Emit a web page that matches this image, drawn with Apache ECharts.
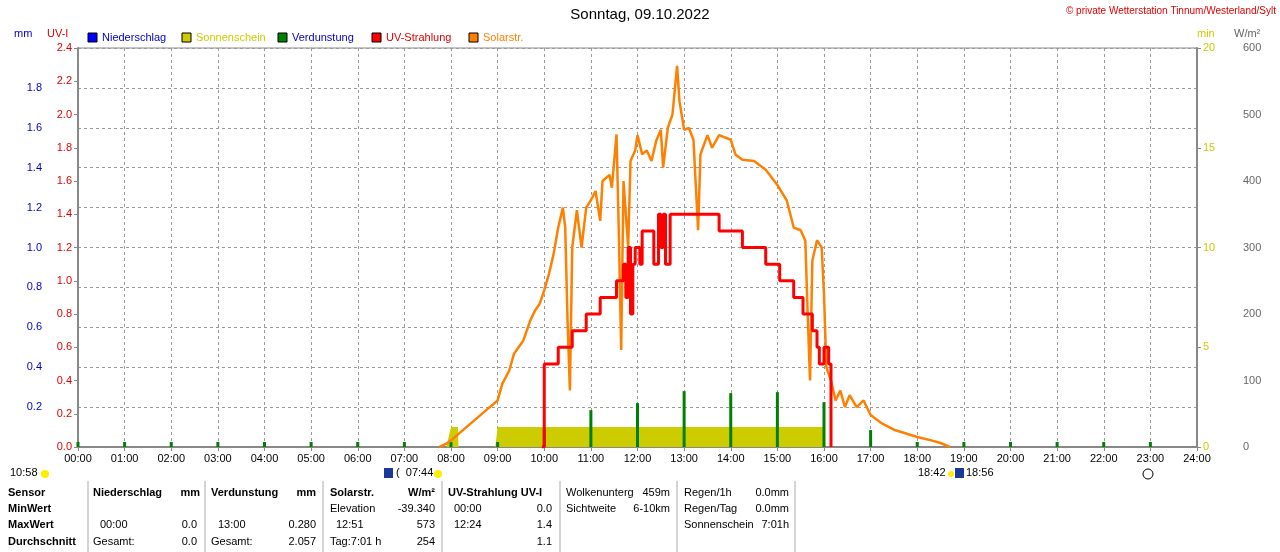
<!DOCTYPE html>
<html><head><meta charset="utf-8">
<script src="https://cdn.jsdelivr.net/npm/echarts@6/dist/echarts.min.js"></script>
<style>html,body{margin:0;padding:0;background:#fff}#c{width:1280px;height:552px}</style>
</head><body><div id="c"></div>
<script>
// Solar radiation W/m² : [hour, value]
const solarData = [[7.75,0],[7.9,5],[8.0,10],[8.25,25],[8.5,40],[8.75,55],[9.0,70],[9.1,95],[9.25,115],[9.35,140],[9.45,150],[9.55,160],[9.7,190],[9.8,205],[9.9,215],[10.0,236],[10.1,260],[10.2,290],[10.3,330],[10.4,360],[10.45,330],[10.5,190],[10.55,85],[10.6,300],[10.7,356],[10.8,300],[10.9,360],[11.0,371],[11.1,385],[11.2,340],[11.25,400],[11.4,409],[11.45,390],[11.55,470],[11.6,320],[11.65,146],[11.7,400],[11.8,300],[11.85,430],[11.95,446],[12.0,469],[12.1,440],[12.2,446],[12.3,430],[12.4,460],[12.5,477],[12.55,420],[12.65,480],[12.75,500],[12.8,537],[12.85,573],[12.9,520],[13.0,477],[13.1,480],[13.2,462],[13.3,326],[13.35,440],[13.5,469],[13.6,450],[13.75,469],[14.0,462],[14.1,440],[14.25,432],[14.5,430],[14.75,417],[15.0,394],[15.2,371],[15.35,330],[15.5,326],[15.6,310],[15.65,200],[15.7,100],[15.75,280],[15.85,311],[15.95,300],[16.0,230],[16.05,120],[16.15,100],[16.25,70],[16.35,85],[16.45,60],[16.55,78],[16.7,60],[16.85,70],[17.0,48],[17.25,35],[17.5,26],[18.0,15],[18.3,10],[18.5,6],[18.7,0]];
// UV index : [hour, value]
const uvData = [[9.95,0],[10.0,0.5],[10.25,0.5],[10.3,0.6],[10.55,0.6],[10.6,0.7],[10.85,0.7],[10.9,0.8],[11.15,0.8],[11.2,0.9],[11.5,0.9],[11.55,1.0],[11.7,1.1],[11.75,0.9],[11.8,1.2],[11.85,0.8],[11.9,1.1],[11.95,1.2],[12.05,1.1],[12.1,1.3],[12.3,1.3],[12.35,1.1],[12.45,1.4],[12.5,1.2],[12.55,1.4],[12.6,1.1],[12.7,1.4],[13.7,1.4],[13.75,1.3],[14.2,1.3],[14.25,1.2],[14.7,1.2],[14.75,1.1],[15.0,1.1],[15.05,1.0],[15.3,1.0],[15.35,0.9],[15.5,0.9],[15.55,0.8],[15.7,0.8],[15.75,0.7],[15.85,0.6],[15.9,0.5],[16.0,0.6],[16.1,0.5],[16.15,0]];
// Sunshine minutes per 10 min : [hour, value]
const sunData = [[7.9,0],[8.0,1],[8.15,1],[8.16,0],[8.95,0],[9.0,1],[16.0,1],[16.01,0]];
// Evaporation mm per hour
const evapHours = [0,1,2,3,4,5,6,7,8,9,10,11,12,13,14,15,16,17,18,19,20,21,22,23];
const evapValues = [0.025,0.025,0.025,0.025,0.025,0.025,0.025,0.025,0.025,0.025,0.095,0.185,0.22,0.28,0.27,0.275,0.225,0.085,0.025,0.025,0.025,0.025,0.025,0.025];

const F='"Liberation Sans", Arial, sans-serif';
const chart = echarts.init(document.getElementById('c'));
const G=[];
function t(x,y,s,o){G.push({type:'text',x:x,y:y,style:Object.assign({text:s,fontFamily:F,fontSize:11,fill:'#000',textVerticalAlign:'middle'},o||{})});}
function tr(x,y,s,o){t(x,y,s,Object.assign({textAlign:'right'},o||{}));}
t(640,15,'Sonntag, 09.10.2022',{fontSize:15,textAlign:'center'});
tr(1276,11,'© private Wetterstation Tinnum/Westerland/Sylt',{fill:'#e00000',fontSize:10});
t(14,34,'mm',{fill:'#0000cc'});t(47,34,'UV-I',{fill:'#e00000'});
t(1197,34,'min',{fill:'#cccc00'});t(1234,34,'W/m²',{fill:'#666'});
const leg=[['Niederschlag','#0000ff','#0000cc'],['Sonnenschein','#cccc00','#cccc00'],['Verdunstung','#008000','#0000cc'],['UV-Strahlung','#ff0000','#e00000'],['Solarstr.','#ff8000','#ff8000']];
const lx=[88,182,278,372,469];
leg.forEach((l,i)=>{G.push({type:'rect',shape:{x:lx[i],y:33,width:9,height:9},style:{fill:l[1],stroke:'#000',lineWidth:1}});t(lx[i]+14,38,l[0],{fill:l[2]});});
t(10,473,'10:58');G.push({type:'circle',shape:{cx:45,cy:474,r:4},style:{fill:'#ffee00'}});
G.push({type:'rect',shape:{x:384,y:468,width:9,height:10},style:{fill:'#1a3a9a'}});
t(396,473,'(  07:44');G.push({type:'circle',shape:{cx:438,cy:474,r:4},style:{fill:'#ffee00'}});
t(918,473,'18:42');G.push({type:'circle',shape:{cx:951,cy:474,r:3},style:{fill:'#ffee00'}});
G.push({type:'rect',shape:{x:955,y:468,width:9,height:10},style:{fill:'#1a3a9a'}});t(966,473,'18:56');
G.push({type:'circle',shape:{cx:1148,cy:474,r:5},style:{fill:'#fff',stroke:'#000'}});
[88,205,323,442,560,677,795].forEach(x=>G.push({type:'line',shape:{x1:x,y1:481,x2:x,y2:552},style:{stroke:'#aaa'}}));
const B={fontWeight:'bold'};const R=[493,509,525,542];
t(8,R[0],'Sensor',B);t(8,R[1],'MinWert',B);t(8,R[2],'MaxWert',B);t(8,R[3],'Durchschnitt',B);
t(93,R[0],'Niederschlag',B);tr(200,R[0],'mm',B);t(100,R[2],'00:00');tr(197,R[2],'0.0');t(93,R[3],'Gesamt:');tr(197,R[3],'0.0');
t(211,R[0],'Verdunstung',B);tr(316,R[0],'mm',B);t(218,R[2],'13:00');tr(316,R[2],'0.280');t(211,R[3],'Gesamt:');tr(316,R[3],'2.057');
t(330,R[0],'Solarstr.',B);tr(435,R[0],'W/m²',B);t(330,R[1],'Elevation');tr(435,R[1],'-39.340');t(336,R[2],'12:51');tr(435,R[2],'573');t(330,R[3],'Tag:7:01 h');tr(435,R[3],'254');
t(448,R[0],'UV-Strahlung UV-I',B);t(454,R[1],'00:00');tr(552,R[1],'0.0');t(454,R[2],'12:24');tr(552,R[2],'1.4');tr(552,R[3],'1.1');
t(566,R[0],'Wolkenunterg');tr(670,R[0],'459m');t(566,R[1],'Sichtweite');tr(670,R[1],'6-10km');
t(684,R[0],'Regen/1h');tr(789,R[0],'0.0mm');t(684,R[1],'Regen/Tag');tr(789,R[1],'0.0mm');t(684,R[2],'Sonnenschein');tr(789,R[2],'7:01h');

const grid='#9a9a9a';
const lbl=(c)=>({color:c,fontFamily:F,fontSize:11});
chart.setOption({
 animation:false,
 grid:{left:78,right:83,top:48,bottom:105,show:true,borderColor:'#888',borderWidth:1},
 xAxis:{type:'value',min:0,max:24,interval:1,axisLine:{lineStyle:{color:'#888',width:2}},axisTick:{length:4,lineStyle:{color:'#888'}},
   axisLabel:{...lbl('#000'),margin:6,formatter:v=>String(v).padStart(2,'0')+':00'},
   splitLine:{show:true,lineStyle:{color:grid,type:[3,3]}}},
 yAxis:[
  {type:'value',min:0,max:2.4,interval:0.2,position:'left',axisLine:{show:true,lineStyle:{color:'#888',width:2}},axisTick:{show:true,length:4},axisLabel:{...lbl('#e00000'),margin:6,formatter:v=>v.toFixed(1)},splitLine:{show:false}},
  {type:'value',min:0,max:2.0,interval:0.2,position:'left',offset:30,axisLine:{show:false},axisTick:{show:false},axisLabel:{...lbl('#0000cc'),margin:6,formatter:v=>(v===0||v>1.95)?'':v.toFixed(1)},splitLine:{show:true,lineStyle:{color:grid,type:[3,3]}}},
  {type:'value',min:0,max:20,interval:5,position:'right',axisLine:{show:true,lineStyle:{color:'#888',width:2}},axisTick:{show:true,length:4},axisLabel:{...lbl('#cccc00'),margin:6},splitLine:{show:false}},
  {type:'value',min:0,max:600,interval:100,position:'right',offset:40,axisLine:{show:false},axisTick:{show:false},axisLabel:{...lbl('#666'),margin:6},splitLine:{show:false}}
 ],
 series:[
  {type:'line',yAxisIndex:2,data:sunData,symbol:'none',lineStyle:{width:0},areaStyle:{color:'#cccc00',opacity:1},z:2},
  {type:'bar',yAxisIndex:1,data:evapHours.map((h,i)=>[h,evapValues[i]]),barWidth:3,itemStyle:{color:'#008000'},z:3},
  {type:'line',yAxisIndex:3,data:solarData,symbol:'none',lineStyle:{color:'#ff8000',width:2.5},z:4},
  {type:'line',yAxisIndex:0,data:uvData,symbol:'none',step:'end',lineStyle:{color:'#ff0000',width:3},z:5}
 ],
 graphic:G
});
</script></body></html>
